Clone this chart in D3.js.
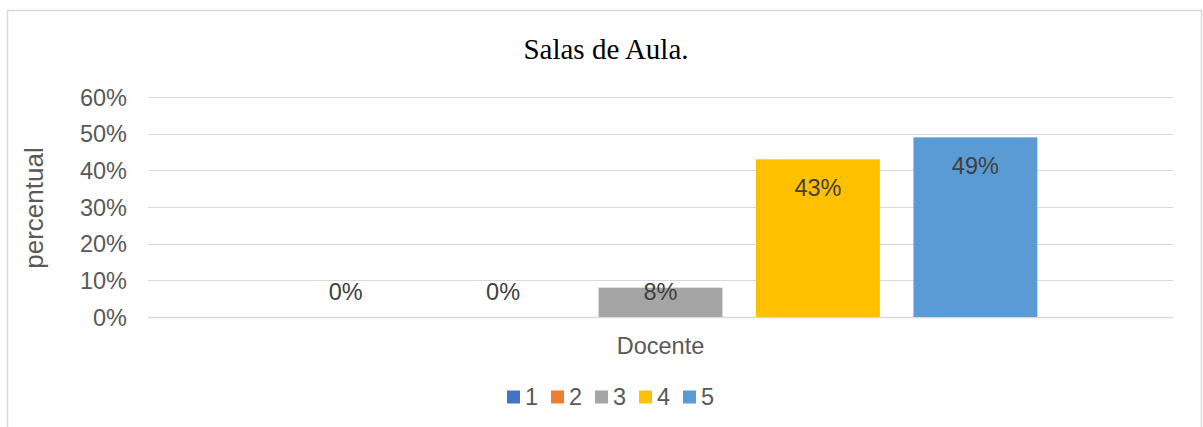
<!DOCTYPE html>
<html>
<head>
<meta charset="utf-8">
<script src="https://cdn.jsdelivr.net/npm/d3@7"></script>
<style>
  html, body { margin: 0; padding: 0; background: #fff; }
  svg { display: block; }
</style>
</head>
<body>
<svg id="chart" width="1203" height="427"></svg>
<script>
// Chart data
const categories = ["Docente"];
const series = ["1", "2", "3", "4", "5"];
const values = [0, 0, 0.08, 0.43, 0.49];
const labels = ["0%", "0%", "8%", "43%", "49%"];
const yTicks = [0, 0.1, 0.2, 0.3, 0.4, 0.5, 0.6];
const colors = ["#4472C4", "#ED7D31", "#A5A5A5", "#FFC000", "#5B9BD5"];

const svg = d3.select("#chart");
const font = "'Liberation Sans', Arial, sans-serif";
const textColor = "#595959";

// Outer chart frame
svg.append("rect")
  .attr("x", 7.5).attr("y", 10.5)
  .attr("width", 1194).attr("height", 430)
  .attr("fill", "#fff").attr("stroke", "#D9D9D9").attr("stroke-width", 1.5);

const plot = { left: 148, right: 1173, top: 97, bottom: 317 };

const y = d3.scaleLinear().domain([0, 0.6]).range([plot.bottom, plot.top]);

const x0 = d3.scaleBand().domain(categories)
  .range([plot.left, plot.right]).paddingInner(0).paddingOuter(0.18);
const x1 = d3.scaleBand().domain(series)
  .range([0, x0.bandwidth()]).paddingInner(0.213).paddingOuter(0);

// Gridlines
svg.append("g").selectAll("line").data(yTicks).join("line")
  .attr("x1", plot.left).attr("x2", plot.right)
  .attr("y1", d => Math.round(y(d)) + 0.5).attr("y2", d => Math.round(y(d)) + 0.5)
  .attr("stroke", "#D9D9D9").attr("stroke-width", d => d === 0 ? 1.5 : 1);

// Y axis tick labels
const yAxis = d3.axisLeft(y).tickValues(yTicks).tickFormat(d3.format(".0%")).tickSize(0).tickPadding(0);
const gy = svg.append("g").attr("transform", `translate(127,0)`).call(yAxis);
gy.select(".domain").remove();
gy.selectAll("text").attr("fill", textColor).attr("font-family", font).attr("font-size", 23.5).attr("dy", "0.35em");

// Bars
const group = svg.append("g").selectAll("g").data(categories).join("g")
  .attr("transform", d => `translate(${x0(d)},0)`);

group.selectAll("rect").data(series.map((s, i) => ({ s, v: values[i], c: colors[i] })))
  .join("rect")
  .attr("x", d => x1(d.s)).attr("width", x1.bandwidth())
  .attr("y", d => y(d.v)).attr("height", d => y(0) - y(d.v))
  .attr("fill", d => d.c);

// Data labels (inside end)
group.selectAll("text.lbl").data(series.map((s, i) => ({ s, v: values[i], l: labels[i] })))
  .join("text").attr("class", "lbl")
  .attr("x", d => x1(d.s) + x1.bandwidth() / 2)
  .attr("y", d => Math.min(y(d.v) + 28, y(0) - 25))
  .attr("dy", "0.35em")
  .attr("text-anchor", "middle")
  .attr("font-family", font).attr("font-size", 23.5)
  .attr("fill", "#404040")
  .text(d => d.l);

// X axis category label
const xAxis = d3.axisBottom(x0).tickSize(0).tickPadding(0);
const gx = svg.append("g").attr("transform", `translate(0,346)`).call(xAxis);
gx.select(".domain").remove();
gx.selectAll("text").attr("fill", textColor).attr("font-family", font).attr("font-size", 23.5).attr("dy", "0.35em");

// Title
svg.append("text").attr("x", 606).attr("y", 59)
  .attr("text-anchor", "middle")
  .attr("font-family", "'Liberation Serif', 'Times New Roman', serif")
  .attr("font-size", 29).attr("fill", "#000")
  .text("Salas de Aula.");

// Y axis title
svg.append("text")
  .attr("transform", "translate(34,208) rotate(-90)")
  .attr("dy", "0.35em").attr("text-anchor", "middle")
  .attr("font-family", font).attr("font-size", 26).attr("fill", textColor)
  .text("percentual");

// Legend
const legend = svg.append("g").attr("transform", "translate(507,397)");
const item = legend.selectAll("g").data(series).join("g")
  .attr("transform", (d, i) => `translate(${i * 44},0)`);
item.append("rect").attr("x", 0).attr("y", -6.5).attr("width", 13).attr("height", 13)
  .attr("fill", (d, i) => colors[i]);
item.append("text").attr("x", 18).attr("y", 0).attr("dy", "0.35em")
  .attr("font-family", font).attr("font-size", 23.5).attr("fill", textColor)
  .text(d => d);
</script>
</body>
</html>
